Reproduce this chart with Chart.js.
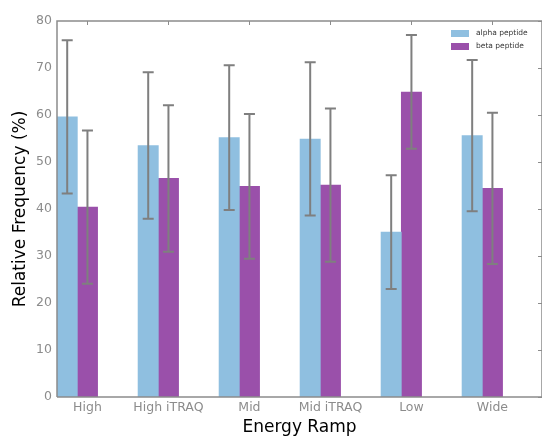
<!DOCTYPE html>
<html>
<head>
<meta charset="utf-8">
<script src="https://cdn.jsdelivr.net/npm/chart.js@4.4.1/dist/chart.umd.min.js"></script>
<style>
html,body{margin:0;padding:0;background:#fff;}
#wrap{width:542px;height:436px;position:relative;}
</style>
</head>
<body>
<div id="wrap"><canvas id="c" width="542" height="436"></canvas></div>
<script>
const categories = ["High", "High iTRAQ", "Mid", "Mid iTRAQ", "Low", "Wide"];
const seriesNames = ["alpha peptide", "beta peptide"];
const alphaValues = [59.6, 53.5, 55.2, 54.9, 35.1, 55.6];
const betaValues  = [40.4, 46.5, 44.8, 45.1, 64.9, 44.4];
const alphaErrors = [16.3, 15.6, 15.4, 16.3, 12.1, 16.1];
const betaErrors  = [16.3, 15.6, 15.4, 16.3, 12.1, 16.1];
const yTicks = [0, 10, 20, 30, 40, 50, 60, 70, 80];

const FONT = "'DejaVu Sans', sans-serif";
const AXIS_GRAY = "#8c8c8c";
const alphaColor = "#8fbfe0";
const betaColor = "#9a50aa";

const alphaData = alphaValues.map((v, i) => ({x: i - 0.25, y: v}));
const betaData = betaValues.map((v, i) => ({x: i, y: v}));

const decorPlugin = {
  id: 'decor',
  afterDatasetsDraw(chart) {
    const ctx = chart.ctx;
    const xs = chart.scales.x, ys = chart.scales.y;
    const errs = [alphaErrors, betaErrors];
    ctx.save();
    ctx.strokeStyle = "#7f7f7f";
    ctx.lineWidth = 2;
    chart.data.datasets.forEach((ds, di) => {
      ds.data.forEach((pt, i) => {
        const px = xs.getPixelForValue(pt.x);
        const yt = ys.getPixelForValue(pt.y + errs[di][i]);
        const yb = ys.getPixelForValue(pt.y - errs[di][i]);
        ctx.beginPath();
        ctx.moveTo(px, yt); ctx.lineTo(px, yb);
        ctx.moveTo(px - 5.5, yt); ctx.lineTo(px + 5.5, yt);
        ctx.moveTo(px - 5.5, yb); ctx.lineTo(px + 5.5, yb);
        ctx.stroke();
      });
    });
    const a = chart.chartArea;
    ctx.strokeStyle = AXIS_GRAY;
    ctx.lineWidth = 1.5;
    ctx.beginPath();
    ctx.moveTo(a.left, a.bottom); ctx.lineTo(a.left, a.top);
    ctx.lineTo(a.right, a.top); ctx.lineTo(a.right, a.bottom);
    ctx.lineTo(a.left, a.bottom);
    ctx.stroke();
    ctx.lineWidth = 1;
    ctx.beginPath();
    xs.ticks.forEach(t => {
      const px = Math.round(xs.getPixelForValue(t.value)) + 0.5;
      ctx.moveTo(px, a.top); ctx.lineTo(px, a.top + 4);
    });
    ys.ticks.forEach(t => {
      const py = Math.round(ys.getPixelForValue(t.value)) + 0.5;
      ctx.moveTo(a.right, py); ctx.lineTo(a.right - 4, py);
    });
    ctx.stroke();
    const lx = 451, ly = 30;
    ctx.font = "7.5px " + FONT;
    ctx.textBaseline = "middle";
    chart.data.datasets.forEach((ds, di) => {
      const y = ly + di * 13;
      ctx.fillStyle = ds.backgroundColor;
      ctx.fillRect(lx, y, 18, 7);
      ctx.fillStyle = "#333333";
      ctx.fillText(ds.label, lx + 25, y + 3.5);
    });
    ctx.restore();
  }
};

new Chart(document.getElementById('c'), {
  type: 'bar',
  data: {
    datasets: [
      {label: seriesNames[0], data: alphaData, backgroundColor: alphaColor, borderWidth: 0, barThickness: 20.3, grouped: false},
      {label: seriesNames[1], data: betaData, backgroundColor: betaColor, borderWidth: 0, barThickness: 20.3, grouped: false}
    ]
  },
  options: {
    responsive: false,
    animation: false,
    devicePixelRatio: 1,
    layout: {padding: {top: 21, right: 0, left: 0, bottom: 0}},
    plugins: {legend: {display: false}, tooltip: {enabled: false}},
    scales: {
      x: {
        type: 'linear',
        offset: false,
        min: -0.376,
        max: 5.612,
        grid: {display: false, drawTicks: false, offset: false},
        border: {display: false},
        afterBuildTicks: s => { s.ticks = categories.map((_, i) => ({value: i})); },
        afterFit: s => { s.height = 39; },
        ticks: {
          callback: v => categories[v],
          color: AXIS_GRAY,
          font: {family: FONT, size: 12.5},
          padding: 3,
          maxRotation: 0,
          autoSkip: false
        },
        title: {display: true, text: "Energy Ramp", color: "#000", font: {family: FONT, size: 17, lineHeight: 1}, padding: {top: 0, bottom: 0}}
      },
      y: {
        min: 0,
        max: 80,
        grid: {display: false, drawTicks: false},
        border: {display: false},
        afterBuildTicks: s => { s.ticks = yTicks.map(v => ({value: v})); },
        afterFit: s => { s.width = 57; },
        ticks: {color: AXIS_GRAY, font: {family: FONT, size: 12.5}, padding: 5},
        title: {display: true, text: "Relative Frequency (%)", color: "#000", font: {family: FONT, size: 17}, padding: {top: 10, bottom: 0}}
      }
    }
  },
  plugins: [decorPlugin]
});
</script>
</body>
</html>
